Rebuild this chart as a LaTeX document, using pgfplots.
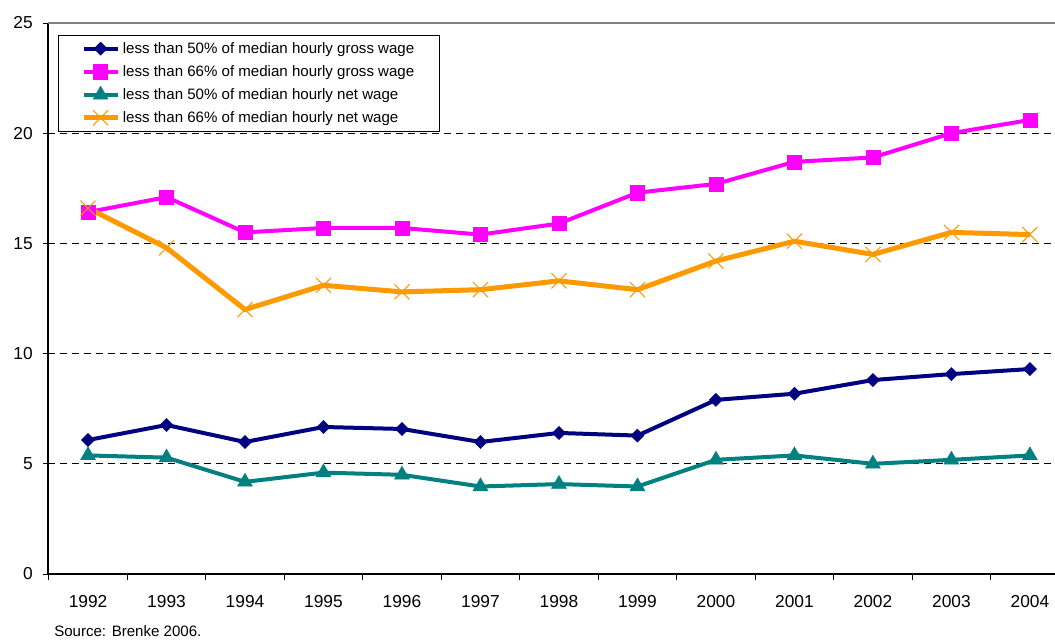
\documentclass[border=0pt]{standalone}
\usepackage{pgfplots}
\pgfplotsset{compat=1.18}
\usepackage{fontspec}
\setmainfont{Liberation Sans}
\definecolor{cnavy}{RGB}{0,0,128}
\definecolor{cmag}{RGB}{255,0,255}
\definecolor{cteal}{RGB}{0,128,128}
\definecolor{corange}{RGB}{255,153,0}
\begin{document}
\begin{tikzpicture}
\path[use as bounding box] (-36pt,-48.75pt) rectangle (755.25pt,430.5pt);
\begin{axis}[
  scale only axis,
  width=755.25pt, height=413.25pt,
  at={(0,0)}, anchor=south west,
  xmin=-0.51, xmax=12.32,
  ymin=0, ymax=25,
  axis x line*=bottom, axis y line*=left,
  axis line style={black, line width=0.8pt},
  xtick={0,...,12},
  xticklabels={1992,1993,1994,1995,1996,1997,1998,1999,2000,2001,2002,2003,2004},
  minor xtick={-0.5,0.5,...,11.5},
  major x tick style={draw=none},
  minor tick length=4.5pt,
  ytick={0,5,10,15,20,25},
  major tick length=3.75pt,
  tick align=outside,
  tick style={black, line width=0.6pt},
  xticklabel style={inner sep=0pt, yshift=-12pt, font=\fontsize{13}{15}\selectfont},
  yticklabel style={inner sep=0pt, xshift=-7.5pt, font=\fontsize{13}{15}\selectfont},
  /pgf/number format/assume math mode=true,
  clip=false,
  legend style={at={(0.0099,0.978)}, anchor=north west, draw=black, line width=0.6pt,
    font=\fontsize{11.3}{13}\selectfont, row sep=3.6pt, inner xsep=17pt, inner ysep=3pt,
    cells={anchor=west}},
  legend cell align=left,
  legend image code/.code={
    \draw[mark repeat=2,mark phase=2] plot coordinates {(0cm,0cm) (0.45cm,0cm) (0.9cm,0cm)};},
]
\draw[gray, line width=0.8pt] (rel axis cs:0,1) -- (rel axis cs:1,1);
\foreach \yv in {5,10,15,20} {
  \edef\tmp{\noexpand\draw[black, dashed, dash pattern=on 5pt off 4pt, line width=0.5pt] (axis cs:-0.51,\yv) -- (axis cs:12.32,\yv);}
  \tmp
}
\addplot[cnavy, line width=3pt, mark=square*, mark size=3.5pt, mark options={solid, rotate=45, line width=0.3pt, fill=cnavy}]
coordinates {(0,6.08) (1,6.76) (2,5.99) (3,6.67) (4,6.58) (5,5.99) (6,6.4) (7,6.28) (8,7.9) (9,8.18) (10,8.8) (11,9.07) (12,9.3)};
\addlegendentry{less than 50\% of median hourly gross wage}
\addplot[cmag, line width=3pt, mark=square*, mark size=5.3pt, mark options={solid, line width=0.3pt, fill=cmag}]
coordinates {(0,16.42) (1,17.1) (2,15.5) (3,15.7) (4,15.7) (5,15.4) (6,15.9) (7,17.3) (8,17.7) (9,18.7) (10,18.9) (11,20.0) (12,20.6)};
\addlegendentry{less than 66\% of median hourly gross wage}
\addplot[cteal, line width=3pt, mark=triangle*, mark size=6.5pt, mark options={solid, line width=0.3pt, fill=cteal}]
coordinates {(0,5.38) (1,5.28) (2,4.18) (3,4.6) (4,4.5) (5,3.97) (6,4.08) (7,3.97) (8,5.18) (9,5.38) (10,5.0) (11,5.18) (12,5.38)};
\addlegendentry{less than 50\% of median hourly net wage}
\addplot[corange, line width=3.75pt, mark=x, mark size=8pt, mark options={solid, line width=0.8pt}]
coordinates {(0,16.6) (1,14.8) (2,12.0) (3,13.1) (4,12.8) (5,12.9) (6,13.3) (7,12.9) (8,14.2) (9,15.1) (10,14.5) (11,15.5) (12,15.4)};
\addlegendentry{less than 66\% of median hourly net wage}
\node[anchor=west, inner sep=0pt, font=\fontsize{11.3}{13}\selectfont] at ([xshift=4.5pt,yshift=-43pt]rel axis cs:0,0) {Source: Brenke 2006.};
\end{axis}
\end{tikzpicture}
\end{document}
